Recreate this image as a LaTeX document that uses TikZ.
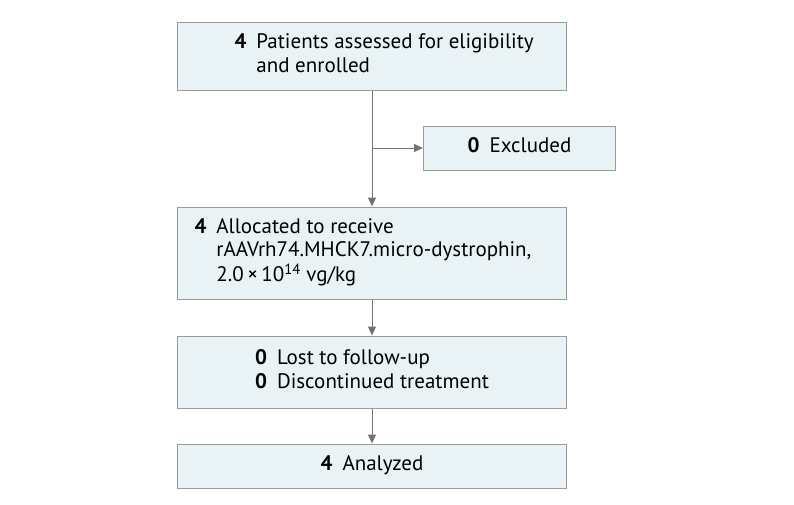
\documentclass[tikz,border=0pt]{standalone}
\usepackage{fontspec}
\setmainfont{PT Sans}
\usetikzlibrary{positioning}
\usetikzlibrary{arrows.meta}

\definecolor{boxfill}{RGB}{233,243,245}
\definecolor{boxline}{RGB}{155,155,155}
\definecolor{arrowgray}{RGB}{115,115,115}

\tikzset{
	flowbox/.style = {fill = boxfill, draw = boxline, line width = 1pt, rectangle, minimum width = 389pt, inner sep = 0pt},
	flowarrow/.style = {arrowgray, line width = 1pt, -{Triangle[length = 9pt, width = 8pt]}}
}

\newcommand{\countrows}[1]{\begin{tabular}{@{}r@{\hspace{10pt}}l@{}}#1\end{tabular}}

\begin{document}
\begin{tikzpicture}[x = 1pt, y = -1pt, font = \fontsize{21}{23.5}\selectfont]
		\useasboundingbox (0,0) rectangle (794,504);

		\node[flowbox, minimum height = 68pt] at (372,56) (enrolled)
		{\makebox[389pt][l]{\hspace*{57pt}\countrows{
				\textbf{4} & Patients assessed for eligibility \\
				& and enrolled
			}}};

		\node[below = 116pt of enrolled, flowbox, minimum height = 92pt] (allocated)
		{\makebox[389pt][l]{\hspace*{17pt}\countrows{
				\textbf{4} & Allocated to receive \\
				& rAAVrh74.MHCK7.micro-dystrophin, \\
				& 2.0\,×\,10\textsuperscript{14} vg/kg
			}}};

		\node[below = 36pt of allocated, flowbox, minimum height = 72pt] (followup)
		{\countrows{
				\textbf{0} & Lost to follow-up \\
				\textbf{0} & Discontinued treatment
			}};

		\node[below = 35pt of followup, flowbox, minimum height = 44pt] (analyzed)
		{\countrows{\textbf{4} & Analyzed}};

		\node[flowbox, minimum width = 192pt, minimum height = 44pt] at (519.5,148) (excluded)
		{\countrows{\textbf{0} & Excluded}};

		\coordinate (split) at (enrolled.south |- excluded.west);

		\draw[flowarrow] (enrolled) -- (allocated);
		\draw[flowarrow] (split) -- (excluded);
		\draw[flowarrow] (allocated) -- (followup);
		\draw[flowarrow] (followup) -- (analyzed);
	\end{tikzpicture}
\end{document}
